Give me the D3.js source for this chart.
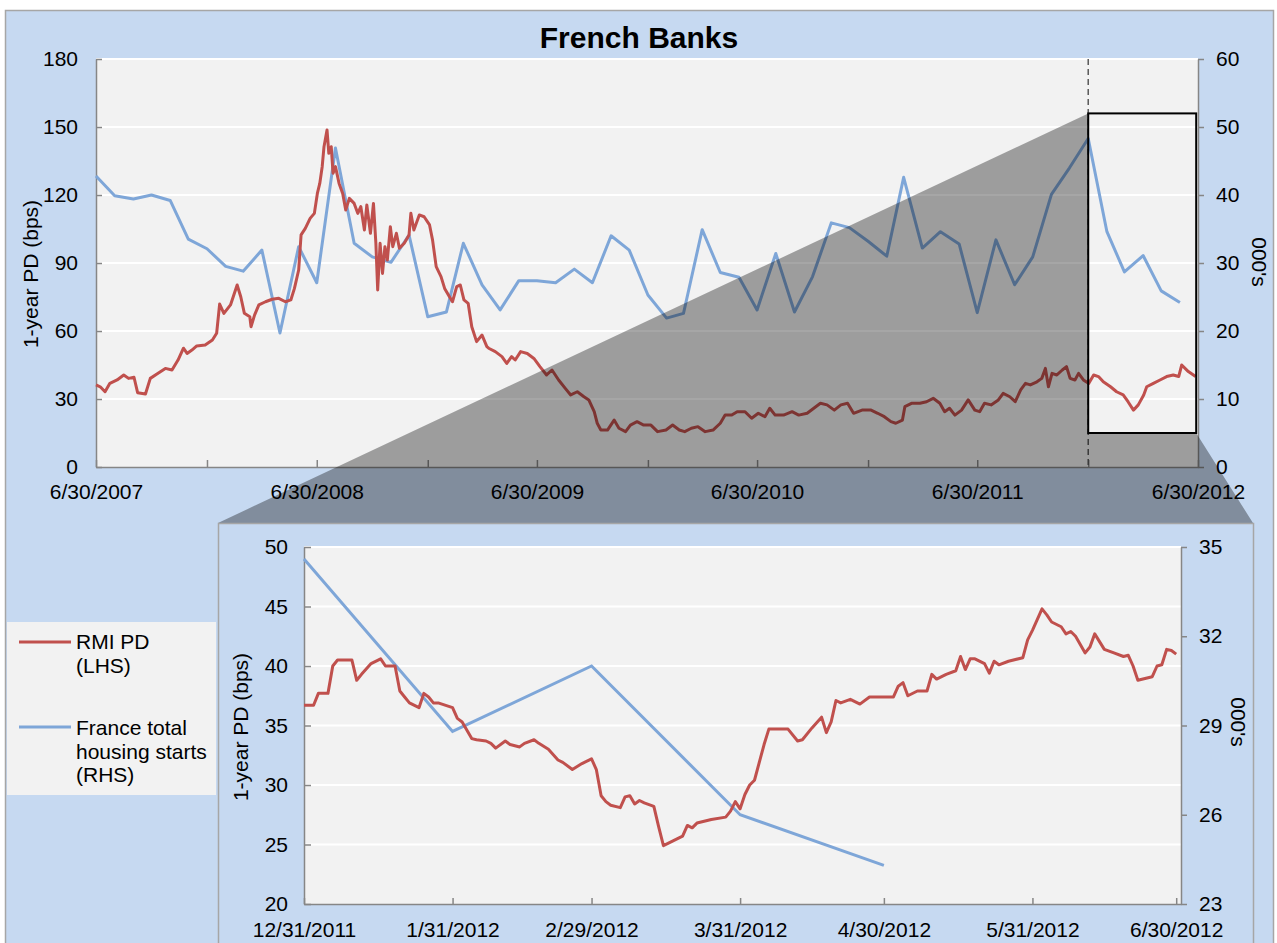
<!DOCTYPE html>
<html>
<head>
<meta charset="utf-8">
<script src="https://cdn.jsdelivr.net/npm/d3@7"></script>
<style>
  body { margin: 0; background: #fff; }
  svg text { font-family: "Liberation Sans", Arial, sans-serif; fill: #000; }
  .axis path, .axis line { stroke: #868686; stroke-width: 1.5; }
  .axis text { font-size: 21px; }
</style>
</head>
<body>
<div id="chart"></div>
<script>
// ---- data ----
var chartTitle = "French Banks";
var pdLabel = "1-year PD (bps)";
var housingLabel = "000's";
var legendLabels = [["RMI PD", "(LHS)"], ["France total", "housing starts", "(RHS)"]];

// France total housing starts, monthly (RHS, 000's)
var housingMonths = ["2007-06","2007-07","2007-08","2007-09","2007-10","2007-11","2007-12",
  "2008-01","2008-02","2008-03","2008-04","2008-05","2008-06","2008-07","2008-08","2008-09","2008-10","2008-11","2008-12",
  "2009-01","2009-02","2009-03","2009-04","2009-05","2009-06","2009-07","2009-08","2009-09","2009-10","2009-11","2009-12",
  "2010-01","2010-02","2010-03","2010-04","2010-05","2010-06","2010-07","2010-08","2010-09","2010-10","2010-11","2010-12",
  "2011-01","2011-02","2011-03","2011-04","2011-05","2011-06","2011-07","2011-08","2011-09","2011-10","2011-11","2011-12",
  "2012-01","2012-02","2012-03","2012-04","2012-05"];
var housingValues = [42.8,39.9,39.4,40.0,39.2,33.5,32.1,
  29.5,28.8,31.9,19.7,32.4,27.1,46.9,32.9,30.9,30.1,34.1,22.1,
  22.8,32.9,26.8,23.1,27.4,27.4,27.1,29.1,27.1,34.0,31.9,25.3,
  21.9,22.6,34.9,28.6,27.9,23.1,31.4,22.8,28.0,35.9,35.2,33.2,
  31.0,42.6,32.2,34.6,32.8,22.7,33.4,26.8,30.9,40.1,44.0,48.3,
  34.6,28.7,31.1,25.9,24.2];

// RMI 1-year PD, French banks (LHS, bps)
var pdSeries = [
  ["2007-06-30",36.2],["2007-07-07",35.4],["2007-07-15",33.2],["2007-07-23",36.9],["2007-08-04",38.4],
  ["2007-08-15",40.6],["2007-08-23",39.1],["2007-09-01",39.6],["2007-09-07",32.8],["2007-09-20",32.2],
  ["2007-09-28",39.1],["2007-10-09",41.0],["2007-10-23",43.5],["2007-11-03",42.8],["2007-11-13",47.2],
  ["2007-11-22",52.4],["2007-11-28",50.1],["2007-12-06",51.6],["2007-12-14",53.4],["2007-12-28",53.8],
  ["2008-01-09",56.0],["2008-01-16",59.0],["2008-01-21",71.9],["2008-01-28",67.8],["2008-02-08",71.5],
  ["2008-02-19",80.3],["2008-02-25",75.1],["2008-03-02",67.8],["2008-03-11",66.3],["2008-03-13",61.9],
  ["2008-03-19",67.1],["2008-03-26",71.5],["2008-04-06",72.9],["2008-04-17",74.0],["2008-04-28",74.4],
  ["2008-05-09",72.9],["2008-05-18",73.7],["2008-05-24",78.8],["2008-05-31",86.9],["2008-06-04",102.4],
  ["2008-06-11",105.3],["2008-06-19",109.7],["2008-06-26",111.9],["2008-07-01",120.7],["2008-07-05",125.1],
  ["2008-07-09",132.5],["2008-07-12",141.3],["2008-07-17",148.7],["2008-07-20",138.4],["2008-07-24",141.3],
  ["2008-07-27",129.6],["2008-07-31",132.5],["2008-08-06",125.1],["2008-08-12",120.7],["2008-08-17",113.4],
  ["2008-08-23",118.5],["2008-08-31",116.3],["2008-09-06",111.9],["2008-09-11",114.9],["2008-09-17",104.6],
  ["2008-09-21",115.6],["2008-09-27",103.1],["2008-10-02",116.3],["2008-10-06",98.7],["2008-10-09",78.1],
  ["2008-10-13",98.7],["2008-10-17",85.4],["2008-10-21",97.2],["2008-10-25",91.3],["2008-10-30",106.0],
  ["2008-11-03",97.2],["2008-11-09",103.1],["2008-11-14",96.5],["2008-11-22",98.7],["2008-11-30",102.4],
  ["2008-12-03",111.9],["2008-12-08",104.6],["2008-12-17",111.2],["2008-12-25",110.4],["2009-01-03",106.8],
  ["2009-01-08",100.1],["2009-01-14",88.4],["2009-01-22",84.0],["2009-01-28",78.8],["2009-02-05",75.1],
  ["2009-02-10",72.9],["2009-02-17",79.6],["2009-02-23",80.3],["2009-03-01",73.7],["2009-03-08",72.2],
  ["2009-03-14",61.9],["2009-03-22",55.3],["2009-03-31",58.2],["2009-04-08",53.1],["2009-04-11",52.4],
  ["2009-04-22",50.9],["2009-05-03",48.7],["2009-05-11",45.7],["2009-05-19",48.7],["2009-05-25",47.2],
  ["2009-06-03",50.9],["2009-06-14",50.1],["2009-06-25",47.9],["2009-07-05",44.3],["2009-07-16",40.6],
  ["2009-07-25",42.8],["2009-08-05",38.4],["2009-08-16",34.7],["2009-08-25",31.8],["2009-09-05",33.2],
  ["2009-09-16",31.0],["2009-09-24",29.6],["2009-10-03",24.4],["2009-10-08",19.3],["2009-10-14",16.3],
  ["2009-10-25",16.3],["2009-11-05",20.7],["2009-11-13",17.1],["2009-11-24",15.6],["2009-12-02",18.5],
  ["2009-12-13",20.0],["2009-12-24",18.5],["2010-01-05",18.5],["2010-01-16",15.6],["2010-01-30",16.3],
  ["2010-02-10",18.5],["2010-02-21",16.3],["2010-03-02",15.6],["2010-03-13",17.1],["2010-03-24",17.8],
  ["2010-04-05",15.6],["2010-04-18",16.3],["2010-04-30",19.3],["2010-05-08",22.9],["2010-05-19",22.9],
  ["2010-05-28",24.4],["2010-06-10",24.4],["2010-06-21",21.5],["2010-07-02",23.7],["2010-07-13",22.2],
  ["2010-07-21",25.9],["2010-07-30",22.9],["2010-08-13",22.9],["2010-08-27",24.4],["2010-09-07",22.9],
  ["2010-09-21",23.7],["2010-10-02",25.9],["2010-10-13",28.1],["2010-10-24",27.4],["2010-11-05",25.1],
  ["2010-11-16",27.4],["2010-11-27",28.1],["2010-12-07",23.7],["2010-12-21",25.1],["2011-01-05",25.1],
  ["2011-01-16",23.7],["2011-01-27",22.2],["2011-02-07",20.0],["2011-02-15",19.3],["2011-02-26",20.7],
  ["2011-03-02",26.6],["2011-03-13",28.1],["2011-03-27",28.1],["2011-04-07",28.8],["2011-04-18",30.3],
  ["2011-04-29",28.1],["2011-05-07",24.4],["2011-05-15",25.9],["2011-05-24",22.9],["2011-06-04",25.1],
  ["2011-06-15",29.6],["2011-06-26",25.1],["2011-07-04",24.4],["2011-07-12",28.1],["2011-07-23",27.4],
  ["2011-08-04",29.6],["2011-08-12",32.5],["2011-08-23",31.0],["2011-09-01",28.8],["2011-09-10",34.0],
  ["2011-09-18",36.9],["2011-09-26",36.2],["2011-10-07",37.6],["2011-10-15",39.1],["2011-10-21",43.5],
  ["2011-10-26",35.4],["2011-11-01",41.3],["2011-11-09",40.6],["2011-11-18",42.8],["2011-11-25",44.3],
  ["2011-12-01",39.1],["2011-12-09",38.4],["2011-12-15",41.3],["2011-12-23",38.4],["2012-01-01",36.9],
  ["2012-01-09",40.6],["2012-01-17",39.9],["2012-01-25",37.6],["2012-02-06",35.4],["2012-02-16",33.2],
  ["2012-02-27",31.8],["2012-03-06",28.8],["2012-03-15",25.1],["2012-03-23",27.4],["2012-04-01",31.8],
  ["2012-04-06",35.4],["2012-04-17",36.9],["2012-04-28",38.4],["2012-05-09",39.9],["2012-05-20",40.6],
  ["2012-05-29",39.9],["2012-06-03",45.0],["2012-06-14",42.1],["2012-06-26",39.9]
];

// zoomed window, 12/31/2011 - 6/30/2012
var insetHousingDates = ["2011-12-31","2012-01-31","2012-02-29","2012-03-31","2012-04-30"];
var insetHousingValues = [34.6, 28.8, 31.0, 26.0, 24.3];
var insetPd = [
  ["2011-12-31",36.7],["2012-01-02",36.7],["2012-01-03",37.7],["2012-01-05",37.7],["2012-01-06",40.0],
  ["2012-01-07",40.5],["2012-01-10",40.5],["2012-01-11",38.8],["2012-01-12",39.3],["2012-01-14",40.2],
  ["2012-01-16",40.6],["2012-01-17",40.0],["2012-01-19",40.0],["2012-01-20",37.9],["2012-01-21",37.4],
  ["2012-01-22",36.9],["2012-01-24",36.5],["2012-01-25",37.7],["2012-01-26",37.4],["2012-01-27",36.9],
  ["2012-01-28",36.9],["2012-01-31",36.5],["2012-02-01",35.6],["2012-02-02",35.3],["2012-02-04",33.9],
  ["2012-02-05",33.8],["2012-02-07",33.7],["2012-02-08",33.5],["2012-02-09",33.1],["2012-02-11",33.7],
  ["2012-02-12",33.4],["2012-02-14",33.2],["2012-02-15",33.5],["2012-02-17",33.8],["2012-02-18",33.5],
  ["2012-02-20",33.0],["2012-02-22",32.1],["2012-02-23",31.9],["2012-02-25",31.3],["2012-02-27",31.8],
  ["2012-02-29",32.2],["2012-03-01",31.3],["2012-03-02",29.1],["2012-03-03",28.6],["2012-03-04",28.3],
  ["2012-03-06",28.1],["2012-03-07",29.0],["2012-03-08",29.1],["2012-03-09",28.4],["2012-03-10",28.7],
  ["2012-03-11",28.5],["2012-03-13",28.2],["2012-03-14",26.5],["2012-03-15",24.9],["2012-03-17",25.3],
  ["2012-03-19",25.7],["2012-03-20",26.6],["2012-03-21",26.4],["2012-03-22",26.8],["2012-03-25",27.1],
  ["2012-03-28",27.3],["2012-03-29",27.8],["2012-03-30",28.6],["2012-03-31",28.0],["2012-04-01",29.2],
  ["2012-04-02",30.0],["2012-04-03",30.4],["2012-04-05",33.4],["2012-04-06",34.7],["2012-04-10",34.7],
  ["2012-04-12",33.7],["2012-04-13",33.8],["2012-04-15",34.8],["2012-04-17",35.7],["2012-04-18",34.4],
  ["2012-04-19",35.3],["2012-04-20",37.1],["2012-04-21",36.9],["2012-04-23",37.2],["2012-04-25",36.8],
  ["2012-04-27",37.4],["2012-05-02",37.4],["2012-05-03",38.3],["2012-05-04",38.6],["2012-05-05",37.5],
  ["2012-05-07",37.9],["2012-05-09",37.9],["2012-05-10",39.3],["2012-05-11",38.9],["2012-05-13",39.3],
  ["2012-05-15",39.6],["2012-05-16",40.8],["2012-05-17",39.7],["2012-05-18",40.6],["2012-05-19",40.6],
  ["2012-05-21",40.2],["2012-05-22",39.4],["2012-05-23",40.4],["2012-05-24",40.1],["2012-05-26",40.4],
  ["2012-05-29",40.7],["2012-05-30",42.2],["2012-05-31",43.0],["2012-06-02",44.8],["2012-06-03",44.3],
  ["2012-06-04",43.7],["2012-06-06",43.3],["2012-06-07",42.7],["2012-06-08",42.9],["2012-06-09",42.5],
  ["2012-06-11",41.1],["2012-06-12",41.6],["2012-06-13",42.7],["2012-06-15",41.4],["2012-06-17",41.1],
  ["2012-06-19",40.8],["2012-06-20",40.9],["2012-06-21",40.0],["2012-06-22",38.8],["2012-06-25",39.1],
  ["2012-06-26",40.0],["2012-06-27",40.1],["2012-06-28",41.4],["2012-06-29",41.3],["2012-06-30",41.0]
];

// axis ticks
var mainTicks = ["2007-06-30","2007-12-31","2008-06-30","2008-12-31","2009-06-30","2009-12-31",
  "2010-06-30","2010-12-31","2011-06-30","2011-12-31","2012-06-30"];
var mainLeftTicks = [0, 30, 60, 90, 120, 150, 180];
var mainRightTicks = [0, 10, 20, 30, 40, 50, 60];
var insetTicks = ["2011-12-31","2012-01-31","2012-02-29","2012-03-31","2012-04-30","2012-05-31","2012-06-30"];
var insetLeftTicks = [20, 25, 30, 35, 40, 45, 50];
var insetRightTicks = [23, 26, 29, 32, 35];

// callout box on the main chart (dates / LHS units)
var zoomFrom = "2011-12-31", zoomTo = "2012-06-27", zoomLow = 15, zoomHigh = 156;

// ---- drawing ----
var width = 1277, height = 943;
var red = "#c0504d", blue = "#7ea6d8", panel = "#c6d9f1", plotBg = "#f2f2f2";
var parse = d3.timeParse("%Y-%m-%d");
var parseMonth = d3.timeParse("%Y-%m");
var fmt = d3.timeFormat("%-m/%-d/%Y");
function monthEnd(m) { return d3.timeDay.offset(d3.timeMonth.offset(parseMonth(m), 1), -1); }

var housing = housingMonths.map(function(m, i) { return {date: monthEnd(m), v: housingValues[i]}; });
var pd = pdSeries.map(function(d) { return {date: parse(d[0]), v: d[1]}; });
var housingIn = insetHousingDates.map(function(s, i) { return {date: parse(s), v: insetHousingValues[i]}; });
var pdIn = insetPd.map(function(d) { return {date: parse(d[0]), v: d[1]}; });

var svg = d3.select("#chart").append("svg").attr("width", width).attr("height", height);

// outer panel + title
svg.append("rect").attr("x", 5.5).attr("y", 10.5).attr("width", 1268).attr("height", 980)
  .attr("fill", panel).attr("stroke", "#a6a6a6").attr("stroke-width", 1.5);
svg.append("text").attr("x", 639).attr("y", 48).attr("text-anchor", "middle")
  .style("font-size", "30px").style("font-weight", "bold").text(chartTitle);

// main chart
var main = {left: 96, right: 1198, top: 59, bottom: 467};
var x = d3.scaleTime().domain([parse("2007-06-30"), parse("2012-06-30")]).range([main.left, main.right]);
var yL = d3.scaleLinear().domain([0, 180]).range([main.bottom, main.top]);
var yR = d3.scaleLinear().domain([0, 60]).range([main.bottom, main.top]);

var g = svg.append("g");
g.append("rect").attr("x", main.left).attr("y", main.top)
  .attr("width", main.right - main.left).attr("height", main.bottom - main.top).attr("fill", plotBg);
g.selectAll(".grid").data(mainLeftTicks.slice(1)).enter().append("line")
  .attr("x1", main.left).attr("x2", main.right)
  .attr("y1", function(d) { return yL(d); }).attr("y2", function(d) { return yL(d); })
  .attr("stroke", "#fff").attr("stroke-width", 2);

g.append("g").attr("class", "axis").attr("transform", "translate(0," + main.bottom + ")")
  .call(d3.axisBottom(x).tickValues(mainTicks.map(parse)).tickSizeInner(-7).tickSizeOuter(0).tickPadding(17)
    .tickFormat(function(d) { return d.getMonth() === 5 ? fmt(d) : ""; }));
g.append("g").attr("class", "axis").attr("transform", "translate(" + main.left + ",0)")
  .call(d3.axisLeft(yL).tickValues(mainLeftTicks).tickSizeInner(-6).tickSizeOuter(0).tickPadding(18));
g.append("g").attr("class", "axis").attr("transform", "translate(" + main.right + ",0)")
  .call(d3.axisRight(yR).tickValues(mainRightTicks).tickSizeInner(6).tickSizeOuter(0).tickPadding(12));

// dashed marker at the start of the zoomed window
g.append("line").attr("x1", x(parse(zoomFrom))).attr("x2", x(parse(zoomFrom)))
  .attr("y1", main.top).attr("y2", main.bottom)
  .attr("stroke", "#595959").attr("stroke-width", 1.5).attr("stroke-dasharray", "6,4");

g.append("path").datum(housing).attr("fill", "none").attr("stroke", blue).attr("stroke-width", 3)
  .attr("stroke-linejoin", "round")
  .attr("d", d3.line().x(function(d) { return x(d.date); }).y(function(d) { return yR(d.v); }));
g.append("path").datum(pd).attr("fill", "none").attr("stroke", red).attr("stroke-width", 3)
  .attr("stroke-linejoin", "round")
  .attr("d", d3.line().x(function(d) { return x(d.date); }).y(function(d) { return yL(d.v); }));

g.append("text").attr("transform", "translate(31,274) rotate(-90)").attr("text-anchor", "middle")
  .attr("dy", "0.35em").style("font-size", "21px").text(pdLabel);
g.append("text").attr("transform", "translate(1259,262) rotate(90)").attr("text-anchor", "middle")
  .attr("dy", "0.35em").style("font-size", "21px").text(housingLabel);

// inset frame
var frame = {left: 218, right: 1253, top: 523};
var inset = {left: 304, right: 1181, top: 547, bottom: 904};

// grey projection from the box to the inset
var bx0 = x(parse(zoomFrom)), bx1 = x(parse(zoomTo)), by0 = yL(zoomHigh), by1 = yL(zoomLow);
svg.append("polygon")
  .attr("points", [[bx0, by0], [frame.left, frame.top], [frame.right, frame.top], [bx1, by1], [bx0, by1]].join(" "))
  .attr("fill", "rgba(0,0,0,0.35)");
svg.append("rect").attr("x", bx0).attr("y", by0).attr("width", bx1 - bx0).attr("height", by1 - by0)
  .attr("fill", "none").attr("stroke", "#000").attr("stroke-width", 2);

svg.append("rect").attr("x", frame.left + 0.5).attr("y", frame.top + 0.5)
  .attr("width", frame.right - frame.left).attr("height", 500)
  .attr("fill", panel).attr("stroke", "#a6a6a6").attr("stroke-width", 1.5);

var xi = d3.scaleTime().domain([parse("2011-12-31"), parse("2012-07-01")]).range([inset.left, inset.right]);
var yiL = d3.scaleLinear().domain([20, 50]).range([inset.bottom, inset.top]);
var yiR = d3.scaleLinear().domain([23, 35]).range([inset.bottom, inset.top]);

var gi = svg.append("g");
gi.append("rect").attr("x", inset.left).attr("y", inset.top)
  .attr("width", inset.right - inset.left).attr("height", inset.bottom - inset.top).attr("fill", plotBg);
gi.selectAll(".grid").data(insetLeftTicks.slice(1)).enter().append("line")
  .attr("x1", inset.left).attr("x2", inset.right)
  .attr("y1", function(d) { return yiL(d); }).attr("y2", function(d) { return yiL(d); })
  .attr("stroke", "#fff").attr("stroke-width", 2);

gi.append("g").attr("class", "axis").attr("transform", "translate(0," + inset.bottom + ")")
  .call(d3.axisBottom(xi).tickValues(insetTicks.map(parse)).tickSizeInner(-6).tickSizeOuter(0).tickPadding(18)
    .tickFormat(fmt));
gi.append("g").attr("class", "axis").attr("transform", "translate(" + inset.left + ",0)")
  .call(d3.axisLeft(yiL).tickValues(insetLeftTicks).tickSizeInner(-7).tickSizeOuter(0).tickPadding(16));
gi.append("g").attr("class", "axis").attr("transform", "translate(" + inset.right + ",0)")
  .call(d3.axisRight(yiR).tickValues(insetRightTicks).tickSizeInner(6).tickSizeOuter(0).tickPadding(12));

gi.append("path").datum(housingIn).attr("fill", "none").attr("stroke", blue).attr("stroke-width", 3)
  .attr("d", d3.line().x(function(d) { return xi(d.date); }).y(function(d) { return yiR(d.v); }));
gi.append("path").datum(pdIn).attr("fill", "none").attr("stroke", red).attr("stroke-width", 3)
  .attr("stroke-linejoin", "round")
  .attr("d", d3.line().x(function(d) { return xi(d.date); }).y(function(d) { return yiL(d.v); }));

gi.append("text").attr("transform", "translate(241,727) rotate(-90)").attr("text-anchor", "middle")
  .attr("dy", "0.35em").style("font-size", "21px").text(pdLabel);
gi.append("text").attr("transform", "translate(1238,722) rotate(90)").attr("text-anchor", "middle")
  .attr("dy", "0.35em").style("font-size", "21px").text(housingLabel);

// legend
var lg = svg.append("g");
lg.append("rect").attr("x", 7).attr("y", 622).attr("width", 209).attr("height", 173).attr("fill", plotBg);
var legendRows = [{color: red, y: 642, base: 649}, {color: blue, y: 727, base: 735}];
legendRows.forEach(function(r, i) {
  lg.append("line").attr("x1", 19).attr("x2", 71).attr("y1", r.y).attr("y2", r.y)
    .attr("stroke", r.color).attr("stroke-width", 3);
  lg.append("text").attr("x", 76).attr("y", r.base).style("font-size", "21px")
    .selectAll("tspan").data(legendLabels[i]).enter().append("tspan")
    .attr("x", 76).attr("dy", function(d, j) { return j === 0 ? 0 : 23.5; })
    .text(function(d) { return d; });
});
</script>
</body>
</html>
